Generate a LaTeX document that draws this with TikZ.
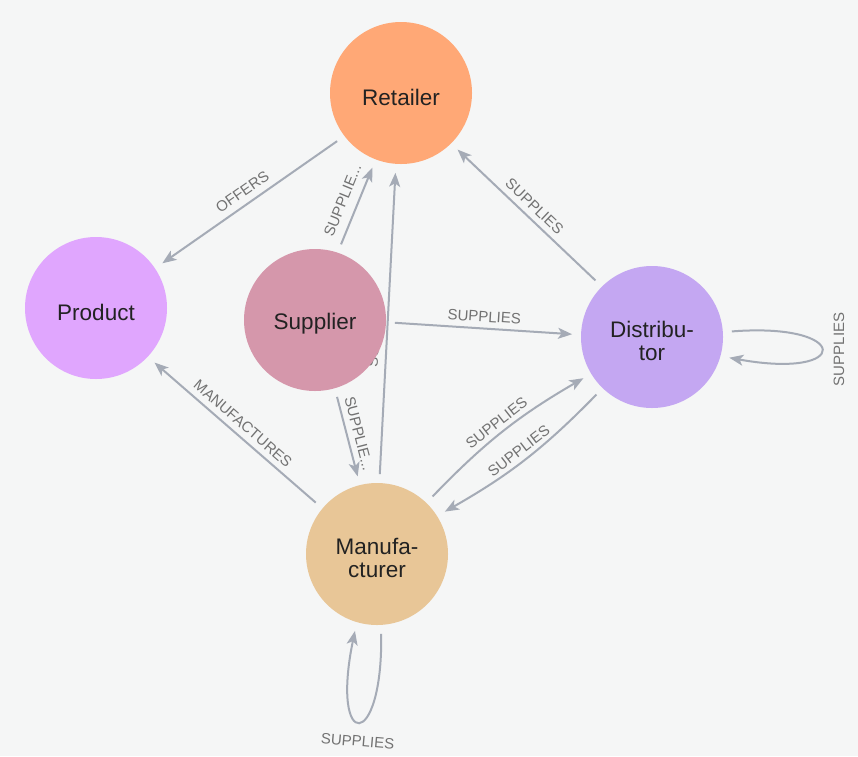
\documentclass[tikz,border=0pt]{standalone}
\usepackage{fontspec}
\setmainfont{Liberation Sans}
\usetikzlibrary{arrows.meta,backgrounds}
\definecolor{bgc}{HTML}{F5F6F6}
\definecolor{edgec}{HTML}{A5ABB6}
\definecolor{lblc}{HTML}{727272}
\definecolor{txtc}{HTML}{222222}
\definecolor{cret}{HTML}{FFA876}
\definecolor{cprod}{HTML}{E0A6FE}
\definecolor{csup}{HTML}{D597AB}
\definecolor{cdis}{HTML}{C4A7F2}
\definecolor{cman}{HTML}{E8C697}
\begin{document}
\begin{tikzpicture}[x=1pt,y=-1pt,
  ent/.style={circle, minimum size=142pt, inner sep=0pt, outer sep=9pt, text=txtc,
    font=\fontsize{22.5}{23}\selectfont, align=center,
    execute at begin node={\rule{0pt}{24.5pt}}},
  twoline/.style={execute at begin node={\rule{0pt}{47.5pt}}},
  rel/.style={draw=edgec, line width=2pt, -{Stealth[length=14pt,width=11pt,inset=3.5pt]}},
  lbl/.style={text=lblc, font=\fontsize{15}{15}\selectfont, inner sep=1.5pt},
  elbl/.style={lbl, sloped, midway, above=#1},
  elbl/.default=4pt,
]
\useasboundingbox (0,0) rectangle (858,756);
\node[ent, fill=cret]  (ret)  at (401,93)  {Retailer};
\node[ent, fill=cprod] (prod) at (96,308)  {Product};
\node[ent, fill=csup]  (sup)  at (315,320) {Supplier};
\node[ent, twoline, fill=cdis]  (dis)  at (652,337) {Distribu-\\tor};
\node[ent, twoline, fill=cman]  (man)  at (377,554) {Manufa-\\cturer};
\begin{scope}[on background layer]
\fill[bgc] (0,0) rectangle (858,756);
\draw[rel] (ret.217) -- node[elbl=5pt] {OFFERS} (prod.34);
\draw[rel] (sup.71) -- node[elbl=7.5pt] {SUPPLIE...} (ret.249);
\draw[rel] (man.88) -- node[elbl=5pt, pos=0.475] {SUPPLIES} (ret.266);
\draw[rel] (dis.135) -- node[elbl] {SUPPLIES} (ret.315);
\draw[rel] (sup.-2) -- node[elbl] {SUPPLIES} (dis.178);
\draw[rel] (sup.286) -- node[elbl] {SUPPLIE...} (man.104);
\draw[rel] (man.140) -- node[elbl] {MANUFACTURES} (prod.317);
\draw[rel] (man.46) to[bend left=8] node[elbl=3pt] {SUPPLIES} (dis.211);
\draw[rel] (dis.226) to[bend left=8] node[elbl=3pt] {SUPPLIES} (man.32);
\draw[rel] (dis.4) .. controls +(120,-9.4) and +(122.7,22.3) .. node[lbl, pos=0.5, rotate=90, anchor=north, inner ysep=11pt] {SUPPLIES} (dis.-15);
\draw[rel] (man.273) .. controls +(1.8,118) and +(-25,121) .. node[lbl, pos=0.5, rotate=-5, anchor=north, inner ysep=13pt] {SUPPLIES} (man.254);
\end{scope}
\end{tikzpicture}
\end{document}
